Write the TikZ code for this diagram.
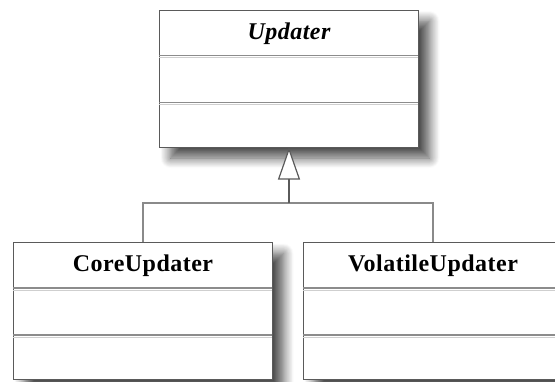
\documentclass[tikz,border=0pt]{standalone}
\usepackage{fontspec}
\newfontfamily\umlfont[LetterSpace=2]{Liberation Serif}
\usetikzlibrary{arrows.meta,shadows.blur}
\definecolor{edge}{HTML}{5A5A5A}
\definecolor{rule}{HTML}{8C8C8C}
\definecolor{rulelight}{HTML}{CFCFCF}
\definecolor{link}{HTML}{8A8A8A}
\tikzset{
  classbox/.style={draw=edge, line width=1pt, fill=white, rectangle,
    minimum width=259pt, minimum height=137pt, inner sep=0pt, anchor=north west,
    blur shadow={shadow xshift=11pt, shadow yshift=-11pt, shadow blur radius=10pt,
      shadow opacity=70, shadow blur steps=12}},
  classname/.style={font=\umlfont\fontsize{24}{28}\selectfont\bfseries, anchor=center},
  divider/.style={draw=rule, line width=1.3pt},
  dividerglow/.style={draw=rulelight, line width=1pt},
  link/.style={draw=link, line width=1.6pt},
}
\begin{document}
\begin{tikzpicture}[x=1pt, y=-1pt]
  \useasboundingbox (0,0) rectangle (555,381);
  \clip (0,0) rectangle (555,381);

  % abstract base class
  \node[classbox] (up) at (159,9.5) {};
  % subclasses
  \node[classbox] (core) at (13,242) {};
  \node[classbox] (volatile) at (303,242) {};

  % compartments and class names
  \foreach \c/\t in {up/{\itshape Updater}, core/CoreUpdater, volatile/VolatileUpdater}{
    \draw[dividerglow] ([yshift=-2pt]\c.north west) ++(0,46) -- ++(259,0);
    \draw[divider] (\c.north west) ++(0,46) -- ++(259,0);
    \draw[dividerglow] ([yshift=-2pt]\c.north west) ++(0,93) -- ++(259,0);
    \draw[divider] (\c.north west) ++(0,93) -- ++(259,0);
    \node[classname] at ([yshift=-24pt]\c.north) {\t};
  }

  % generalisation connectors
  \coordinate (bus) at (up.south |- 0,203);
  \draw[link] (core.north) |- (bus) -| (volatile.north);
  \draw[link, draw=edge, line width=1.4pt,
        -{Triangle[open, length=32pt, width=22pt, line width=1.2pt, fill=white]}]
        (bus) -- (up.south);
\end{tikzpicture}
\end{document}
